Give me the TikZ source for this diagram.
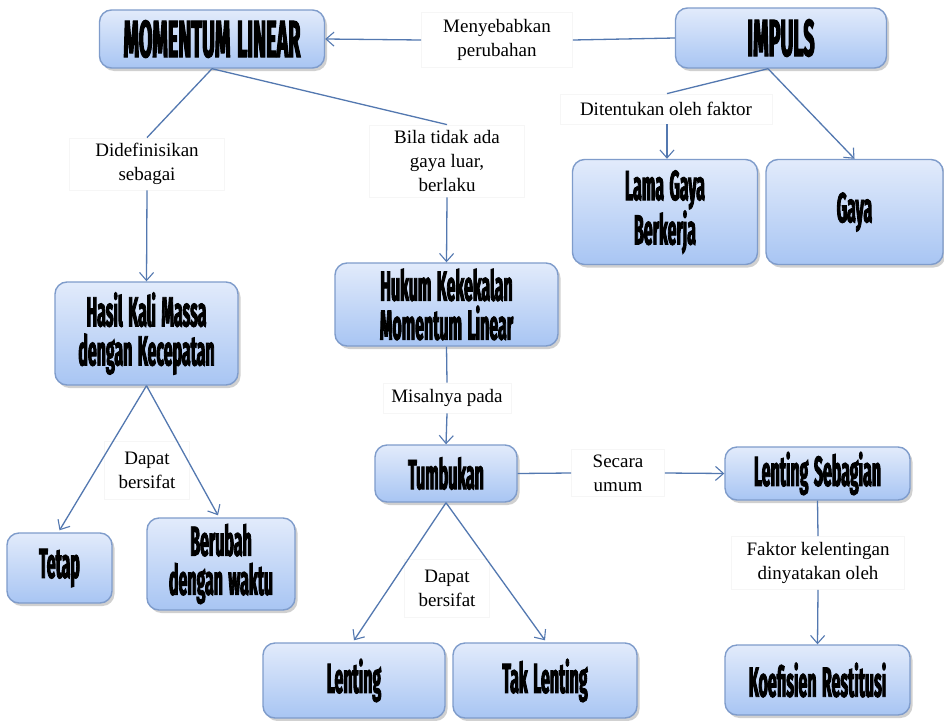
\documentclass[tikz,border=0pt]{standalone}
\usepackage{fontspec}
\setmainfont{Liberation Serif}
\newfontfamily\boxfont[FakeStretch=0.38,FakeBold=2]{Fira Sans}
\newcommand\conceptfont[2]{\boxfont\bfseries\fontsize{#1}{#2}\selectfont\spaceskip=0.13em\relax}
\usetikzlibrary{arrows.meta,shadows,calc}
\definecolor{boxtop}{HTML}{E2EBFB}
\definecolor{boxbot}{HTML}{A8C5F3}
\definecolor{boxline}{HTML}{7F9CCB}
\definecolor{linkblue}{HTML}{5378B0}
\definecolor{tagline}{HTML}{F6F6F6}
\tikzset{
  concept/.style={rounded corners=12pt, draw=boxline, line width=1.4pt,
    top color=boxtop, bottom color=boxbot, align=center, inner sep=0pt,
    font=\conceptfont{42}{39},
    drop shadow={shadow xshift=2.5pt, shadow yshift=-3pt, opacity=0.3, fill=black!60}},
  bigconcept/.style={concept, font=\conceptfont{52}{44}},
  tag/.style={fill=white, draw=tagline, line width=0.8pt, align=center,
    inner sep=0pt, font=\fontsize{19}{24}\selectfont},
  link/.style={draw=linkblue, line width=1.3pt},
  arr/.style={link, -{Straight Barb[length=8pt,width=14pt,line width=1.1pt]}},
}
\begin{document}
\begin{tikzpicture}[x=1pt,y=-1pt]
\useasboundingbox[fill=white] (0,0) rectangle (944,720);

% concept boxes
\node[bigconcept, minimum width=225pt, minimum height=58pt] (ml) at (212,39) {MOMENTUM LINEAR};
\node[bigconcept, minimum width=211pt, minimum height=60pt] (imp) at (781,38) {IMPULS};
\node[concept, minimum width=185pt, minimum height=105pt] (lama) at (665,212) {Lama Gaya\\Berkerja};
\node[concept, minimum width=177pt, minimum height=105pt] (gaya) at (854.5,212) {Gaya};
\node[concept, minimum width=183pt, minimum height=103pt] (hasil) at (146.5,333.5) {Hasil Kali Massa\\dengan Kecepatan};
\node[concept, minimum width=223pt, minimum height=83pt] (hukum) at (446.5,304.5) {Hukum Kekekalan\\Momentum Linear};
\node[concept, minimum width=142pt, minimum height=57pt] (tumb) at (446,473.5) {Tumbukan};
\node[concept, minimum width=185pt, minimum height=53pt] (lseb) at (817.5,473.5) {Lenting Sebagian};
\node[concept, minimum width=185pt, minimum height=70pt] (koef) at (817.5,680) {Koefisien Restitusi};
\node[concept, minimum width=182pt, minimum height=75pt] (lent) at (354,680.5) {Lenting};
\node[concept, minimum width=184pt, minimum height=75pt] (tak) at (545,680.5) {Tak Lenting};
\node[concept, minimum width=105pt, minimum height=70pt] (tetap) at (59.5,568) {Tetap};
\node[concept, minimum width=148pt, minimum height=92pt] (ubah) at (221,564) {Berubah\\dengan waktu};

% link labels
\node[tag, minimum width=151pt, minimum height=55pt] (tM) at (497,40) {Menyebabkan\\perubahan};
\node[tag, minimum width=212pt, minimum height=30pt] (tD) at (666,109) {Ditentukan oleh faktor};
\node[tag, minimum width=155pt, minimum height=52pt] (tDef) at (147,164) {Didefinisikan\\sebagai};
\node[tag, minimum width=155pt, minimum height=72pt] (tB) at (447,161) {Bila tidak ada\\gaya luar,\\berlaku};
\node[tag, minimum width=128pt, minimum height=30pt] (tMis) at (447,398) {Misalnya pada};
\node[tag, minimum width=93pt, minimum height=47pt] (tS) at (618,473) {Secara\\umum};
\node[tag, minimum width=173pt, minimum height=53pt] (tF) at (818,563) {Faktor kelentingan\\dinyatakan oleh};
\node[tag, minimum width=85pt, minimum height=58pt] (tDap2) at (447,588) {Dapat\\bersifat};
\node[tag, minimum width=85pt, minimum height=58pt] (tDap1) at (147,470) {Dapat\\bersifat};

% connectors
\coordinate (impS) at ([xshift=-13pt]imp.south);
\coordinate (tDtop) at ([xshift=1pt]tD.north);
\draw[link] (imp.west) -- (tM.east);
\draw[arr] (tM.west) -- (ml.east);
\draw[link] (impS) -- (tDtop);
\draw[arr] ([xshift=1pt]tD.south) -- ([xshift=2pt]lama.north);
\draw[arr] (impS) -- (gaya.north);

\draw[link] (ml.south) -- (tDef.north);
\draw[arr] (tDef.south) -- (hasil.north);
\draw[link] (ml.south) -- (tB.north);
\draw[arr] (tB.south) -- (hukum.north);

\draw[link] (hukum.south) -- (tMis.north);
\draw[arr] (tMis.south) -- (tumb.north);

\draw[link] (tumb.east) -- (tS.west);
\draw[arr] (tS.east) -- (lseb.west);

\draw[link] (lseb.south) -- (tF.north);
\draw[arr] (tF.south) -- (koef.north);

\draw[arr] (tumb.south) -- ([yshift=2pt]lent.north);
\draw[arr] (tumb.south) -- ([yshift=2pt]tak.north);

\draw[arr] (hasil.south) -- ([yshift=2pt]tetap.north);
\draw[arr] (hasil.south) -- ([xshift=-3pt,yshift=2pt]ubah.north);
\end{tikzpicture}
\end{document}
